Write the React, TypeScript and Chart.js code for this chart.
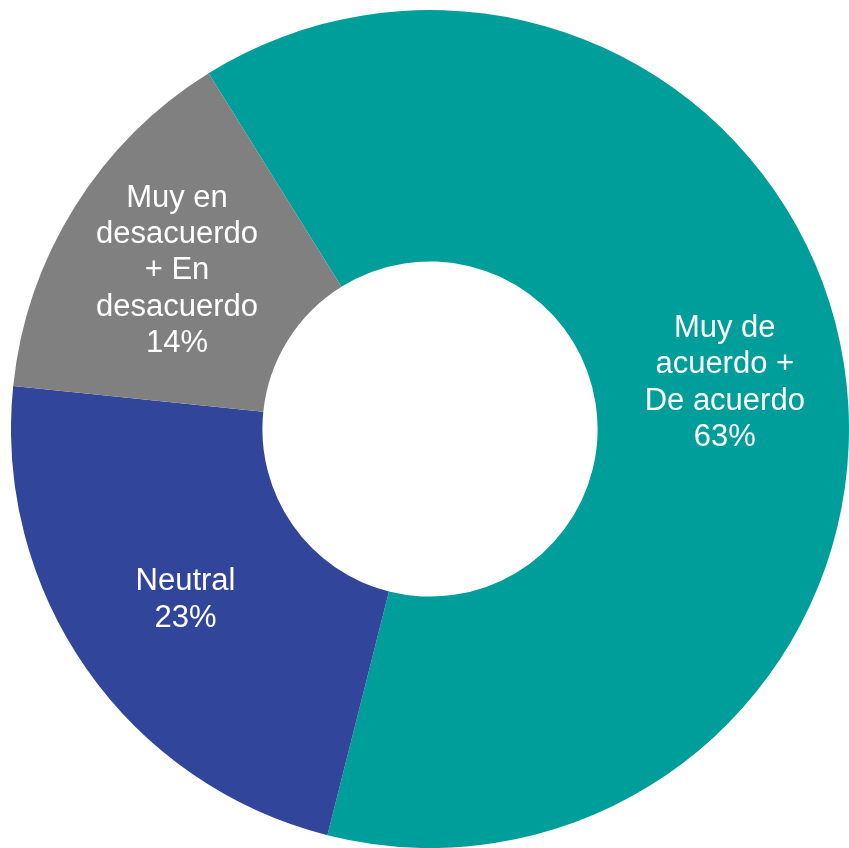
import React, { useEffect, useRef } from "react";
import { Chart, registerables } from "chart.js";

Chart.register(...registerables);

const categories: string[][] = [
  ["Muy de", "acuerdo +", "De acuerdo"],
  ["Neutral"],
  ["Muy en", "desacuerdo", "+ En", "desacuerdo"],
];
const values: number[] = [62.8, 22.7, 14.5];
const percentLabels: string[] = ["63%", "23%", "14%"];
const colors: string[] = ["#009E9A", "#31459A", "#808080"];

const labelPlugin = {
  id: "sliceLabels",
  afterDatasetsDraw(chart: any) {
    const ctx = chart.ctx;
    const meta = chart.getDatasetMeta(0);
    ctx.save();
    ctx.fillStyle = "#FFFFFF";
    ctx.font = '31px "Liberation Sans", Arial, sans-serif';
    ctx.textAlign = "center";
    ctx.textBaseline = "middle";
    meta.data.forEach((arc: any, i: number) => {
      const p = arc.getProps(["x", "y", "startAngle", "endAngle", "innerRadius", "outerRadius"], true);
      const mid = (p.startAngle + p.endAngle) / 2;
      const r = p.innerRadius + (p.outerRadius - p.innerRadius) * 0.52;
      const cx = p.x + Math.cos(mid) * r;
      const cy = p.y + Math.sin(mid) * r;
      const lines = [...categories[i], percentLabels[i]];
      const lh = 36.3;
      lines.forEach((t, j) => {
        ctx.fillText(t, cx, cy + (j - (lines.length - 1) / 2) * lh);
      });
    });
    ctx.restore();
  },
};

export default function App() {
  const ref = useRef<HTMLCanvasElement | null>(null);
  useEffect(() => {
    if (!ref.current) return;
    const chart = new Chart(ref.current, {
      type: "doughnut",
      data: {
        labels: categories.map((c) => c.join(" ")),
        datasets: [
          {
            data: values,
            backgroundColor: colors,
            borderWidth: 0,
          },
        ],
      },
      options: {
        animation: false,
        responsive: false,
        maintainAspectRatio: false,
        cutout: "40%",
        rotation: -31.9,
        layout: { padding: 0 },
        plugins: {
          legend: { display: false },
          tooltip: { enabled: false },
        },
      },
      plugins: [labelPlugin],
    });
    return () => chart.destroy();
  }, []);
  return (
    <div style={{ position: "absolute", left: 11, top: 10, width: 838, height: 838 }}>
      <canvas ref={ref} width={838} height={838} />
    </div>
  );
}
